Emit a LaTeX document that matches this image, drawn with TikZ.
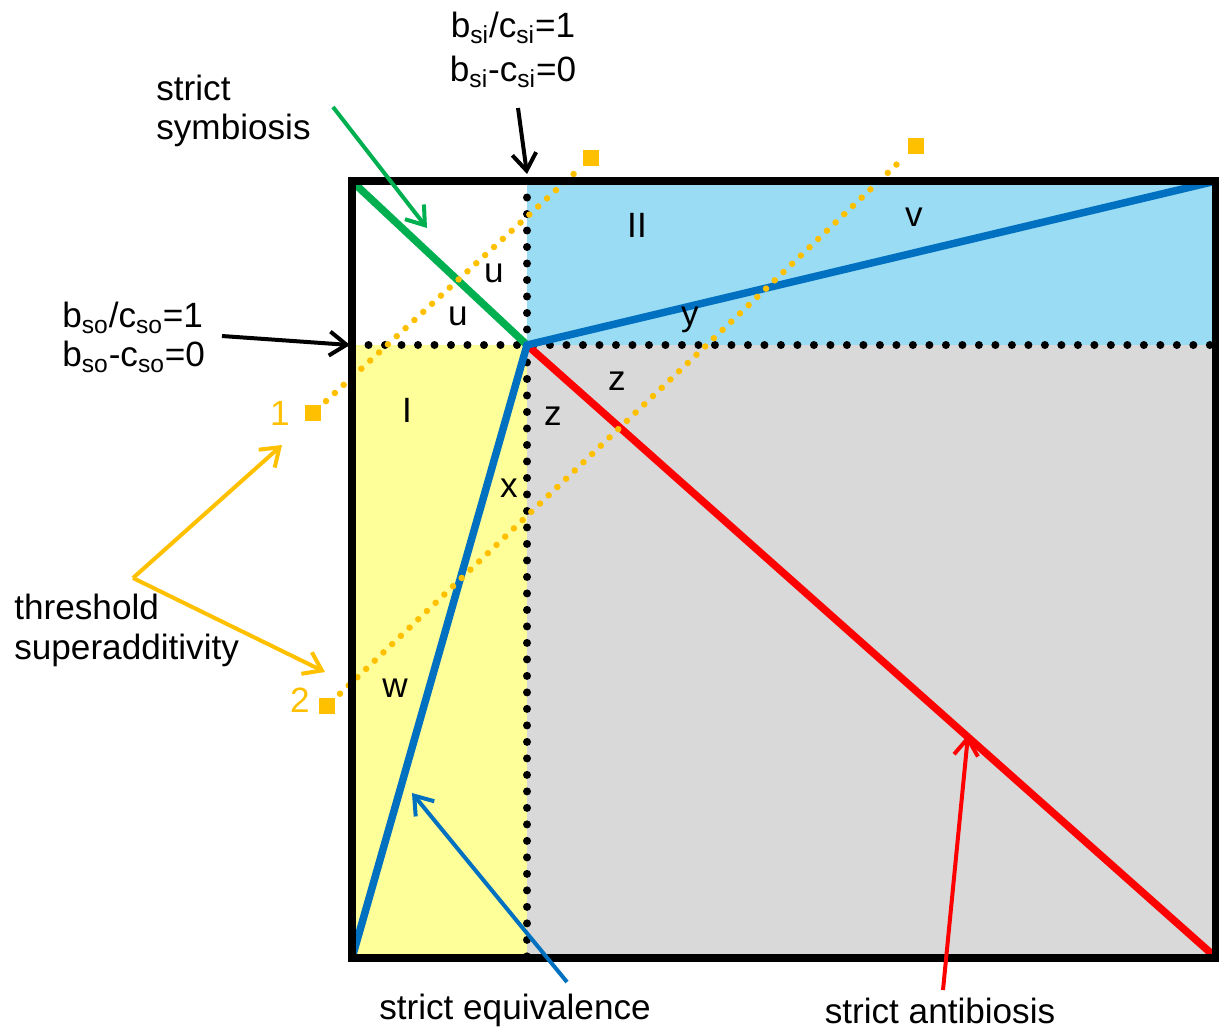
\documentclass[tikz,border=0pt]{standalone}
\usepackage{fontspec}
\setmainfont{Liberation Sans}
\usetikzlibrary{arrows.meta}
\definecolor{lblue}{RGB}{155,220,245}
\definecolor{lyellow}{RGB}{255,255,153}
\definecolor{lgray}{RGB}{217,217,217}
\definecolor{dblue}{RGB}{0,112,192}
\definecolor{dgreen}{RGB}{0,176,80}
\definecolor{orng}{RGB}{255,192,0}
\tikzset{
  frame/.style={line width=0.15cm, black},
  blackdots/.style={line width=0.16cm, line cap=round, dash pattern=on 0pt off 0.33cm, black},
  odots/.style={line width=0.13cm, line cap=round, dash pattern=on 0pt off 0.24cm, orng},
  thickline/.style={line width=0.15cm},
  osq/.style={fill=orng, minimum size=0.32cm, inner sep=0pt, outer sep=0.1cm},
  ptr/.style={line width=0.08cm, -{Straight Barb[length=3.4mm,width=4.8mm]}},
  lab/.style={inner sep=0pt},
}
\begin{document}
\begin{tikzpicture}[x=0.02cm,y=-0.02cm,font=\fontsize{20}{24}\selectfont]
\useasboundingbox (0,0) rectangle (1219,1032);
\coordinate (TL) at (352,181);
\coordinate (TR) at (1216,181);
\coordinate (BL) at (352,958);
\coordinate (BR) at (1216,958);
\coordinate (C) at (527,345);
\coordinate (T) at (527,181);
\coordinate (B) at (527,958);
\coordinate (L) at (352,345);
\coordinate (R) at (1216,345);
\coordinate (GS) at (355,184);
\coordinate (RE) at (1213,955);
% fills
\fill[lyellow] (L) rectangle (B);
\fill[lgray] (C) rectangle (BR);
\fill[lblue] (T) rectangle (R);
% dotted axes
\draw[blackdots] (L) -- (R);
\draw[blackdots] (T) -- (B);
% colored lines
\draw[thickline, dgreen] (GS) -- (C);
\draw[thickline, red] (C) -- (RE);
\draw[thickline, dblue, line join=miter] (BL) -- (C) -- (TR);
% orange threshold lines
\node[osq] (s1) at (313,413) {};
\node[osq] (e1) at (591,158) {};
\node[osq] (s2) at (327,706) {};
\node[osq] (e2) at (916,146) {};
\draw[odots] (s1) -- (e1);
\draw[odots] (s2) -- (e2);
% frame
\draw[frame] (TL) rectangle (BR);
% region labels
\node[lab] (lu1) at (494,273) {u};
\node[lab] (lu2) at (458,316) {u};
\node[lab] (lII) at (637,225) {II};
\node[lab] (lv) at (914,217) {v};
\node[lab] (ly) at (690,320) {y};
\node[lab] (lI) at (407,410) {I};
\node[lab] (lz1) at (617,381) {z};
\node[lab] (lz2) at (553,416) {z};
\node[lab] (lx) at (509,488) {x};
\node[lab] (lw) at (395,688) {w};
\node[lab, text=orng] (n1) at (280,413) {1};
\node[lab, text=orng] (n2) at (300,700) {2};
% outer labels
\node[lab, anchor=west] (ss1) at (156,88) {strict};
\node[lab, anchor=west] (ss2) at (156,130) {symbiosis};
\node[lab] (bsi1) at (513,28) {b\textsubscript{si}/c\textsubscript{si}=1};
\node[lab] (bsi2) at (513,72) {b\textsubscript{si}-c\textsubscript{si}=0};
\node[lab, anchor=west] (bso1) at (62,318) {b\textsubscript{so}/c\textsubscript{so}=1};
\node[lab, anchor=west] (bso2) at (62,357) {b\textsubscript{so}-c\textsubscript{so}=0};
\node[lab, anchor=west] (th1) at (14,607) {threshold};
\node[lab, anchor=west] (th2) at (14,650) {superadditivity};
\node[lab] (seq) at (515,1010) {strict equivalence};
\node[lab] (sab) at (940,1011) {strict antibiosis};
% pointer arrows
\coordinate (a1s) at (518,108);
\coordinate (a1e) at (527,174);
\coordinate (a2s) at (222,336);
\coordinate (a2e) at (350,345);
\coordinate (a3s) at (333,107);
\coordinate (a3e) at (427,228);
\coordinate (ov) at (133,578);
\coordinate (o1) at (282,445);
\coordinate (o2) at (325,672);
\coordinate (a4s) at (567,982);
\coordinate (a4e) at (412,793);
\coordinate (a5s) at (943,990);
\coordinate (a5e) at (968,735);
\draw[ptr, black] (a1s) -- (a1e);
\draw[ptr, black] (a2s) -- (a2e);
\draw[ptr, dgreen] (a3s) -- (a3e);
\draw[ptr, orng] (ov) -- (o1);
\draw[ptr, orng] (ov) -- (o2);
\draw[ptr, dblue] (a4s) -- (a4e);
\draw[ptr, red] (a5s) -- (a5e);
\end{tikzpicture}
\end{document}
